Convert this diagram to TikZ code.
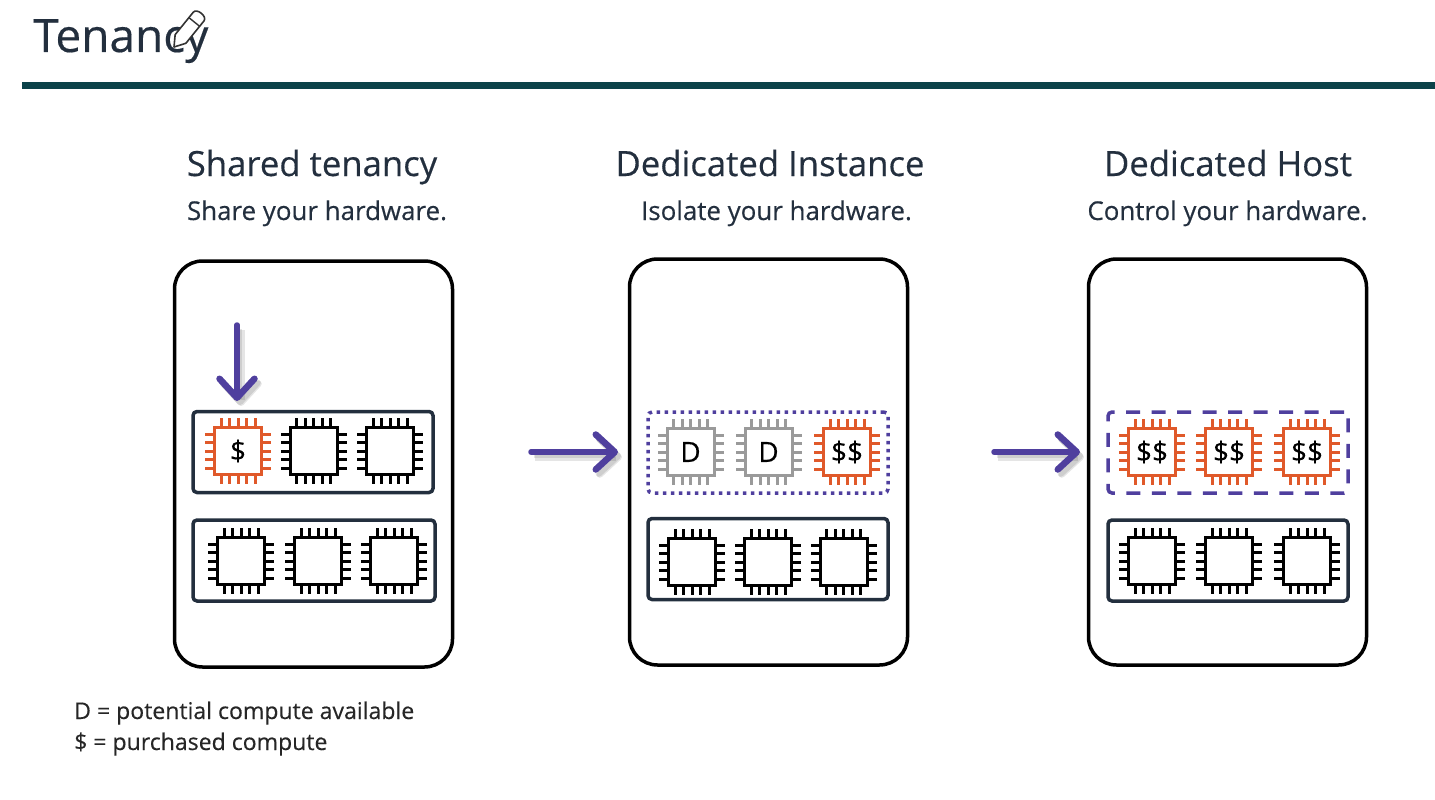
\documentclass[tikz,border=0pt]{standalone}
\usepackage{fontspec}
\setmainfont[FakeBold=0.35]{Open Sans}
\usetikzlibrary{arrows.meta}

\definecolor{inkdark}{HTML}{232F3E}
\definecolor{barteal}{HTML}{0B4249}
\definecolor{arrowpurple}{HTML}{4F3F9E}
\definecolor{chiporange}{HTML}{E0592A}
\definecolor{chipgrey}{HTML}{9A9A9A}

\tikzset{
  host/.style={draw=black, line width=3.5pt, rounded corners=28pt, minimum width=278pt, minimum height=406pt},
  rack/.style={draw=inkdark, line width=3.5pt, rounded corners=4pt, minimum width=240pt, minimum height=81pt},
  rackdotted/.style={rack, draw=arrowpurple, line width=3.5pt, dash pattern=on 3.5pt off 4.5pt},
  rackdashed/.style={rack, draw=arrowpurple, line width=3.5pt, dash pattern=on 14pt off 11.5pt},
  chipbody/.style={draw=#1, fill=white, line width=3pt, minimum size=47pt, inner sep=0pt, font=\fontsize{28}{28}\selectfont},
  heading/.style={font=\fontsize{34.7}{38}\selectfont, text=inkdark, inner sep=0pt, anchor=base},
  subheading/.style={font=\fontsize{25.9}{30}\selectfont, text=inkdark, inner sep=0pt, anchor=base},
  legend/.style={font=\fontsize{23.05}{28}\selectfont, text=black!85, inner sep=0pt, anchor=base west},
  pointer/.style={draw=arrowpurple, line width=5.5pt, line cap=round,
    -{Straight Barb[length=19pt,width=35pt,line width=6.5pt,round]},
    preaction={draw=black, opacity=0.10, line width=7pt, transform canvas={shift={(4pt,-5pt)}}},
    preaction={draw=black, opacity=0.10, line width=4pt, transform canvas={shift={(3pt,-4pt)}}}},
}

% chip: name, x, y, colour, text
\newcommand{\chipnode}[5]{
  \node[chipbody=#4] (#1) at (#2,#3) {#5};
  \foreach \p in {-17,-8.5,0,8.5,17} {
    \draw[#4, line width=3pt] ([shift={(\p,-24)}]#1.center) -- ++(0,-9);
    \draw[#4, line width=3pt] ([shift={(\p,24)}]#1.center) -- ++(0,9);
    \draw[#4, line width=3pt] ([shift={(-24,\p)}]#1.center) -- ++(-9,0);
    \draw[#4, line width=3pt] ([shift={(24,\p)}]#1.center) -- ++(9,0);
  }
}

\begin{document}
\begin{tikzpicture}[x=1pt, y=-1pt]
  \useasboundingbox (0,0) rectangle (1435,800);

  % title and pencil
  \node[font=\fontsize{46}{50}\selectfont, text=inkdark, inner sep=0pt, anchor=base west] (title) at (33,52) {Tenancy};
  \begin{scope}[shift={(174,47)}, rotate=51, scale=1.15]
    \draw[fill=white, draw=black!80, line width=1.6pt, line join=round]
      (0,0) -- (9,-6) -- (34,-6) .. controls (39,-6) and (39,6) .. (34,6) -- (9,6) -- cycle;
    \draw[draw=black!80, line width=1.4pt] (28,-6) -- (28,6);
  \end{scope}
  \fill[barteal] (22,82) rectangle (1435,89);

  % headings
  \node[heading] (sharedhead) at (312,176) {Shared tenancy};
  \node[subheading] (sharedsub) at (317,220) {Share your hardware.};
  \node[heading] (instancehead) at (770,176) {Dedicated Instance};
  \node[subheading] (instancesub) at (776.5,220) {Isolate your hardware.};
  \node[heading] (hosthead) at (1228,176) {Dedicated Host};
  \node[subheading] (hostsub) at (1227.5,220) {Control your hardware.};

  % hosts
  \node[host] (shared) at (313.5,464) {};
  \node[host] (instance) at (768.5,462) {};
  \node[host] (dedicated) at (1227.5,462) {};

  % racks
  \node[rack] (sharedtop) at (313,452) {};
  \node[rack, minimum width=242pt] (sharedlow) at (314,560.5) {};
  \node[rackdotted] (instancetop) at (768,452.5) {};
  \node[rack] (instancelow) at (768,559) {};
  \node[rackdashed] (dedicatedtop) at (1228,452.5) {};
  \node[rack] (dedicatedlow) at (1228,560.5) {};

  % chips
  \chipnode{sa}{238}{451}{chiporange}{\$}
  \chipnode{sb}{313.5}{451}{black}{}
  \chipnode{sc}{390}{451}{black}{}
  \chipnode{sd}{241}{561}{black}{}
  \chipnode{se}{318}{561}{black}{}
  \chipnode{sf}{394}{561}{black}{}

  \chipnode{ia}{690.5}{452}{chipgrey}{D}
  \chipnode{ib}{768.5}{452}{chipgrey}{D}
  \chipnode{ic}{847}{452}{chiporange}{\$\$}
  \chipnode{id}{692}{562}{black}{}
  \chipnode{ie}{768}{562}{black}{}
  \chipnode{if}{843.5}{562}{black}{}

  \chipnode{da}{1152}{452}{chiporange}{\$\$}
  \chipnode{db}{1229}{452}{chiporange}{\$\$}
  \chipnode{dc}{1307}{452}{chiporange}{\$\$}
  \chipnode{dd}{1152}{561}{black}{}
  \chipnode{de}{1229}{561}{black}{}
  \chipnode{df}{1307}{561}{black}{}

  % arrows
  \coordinate (downstart) at (237,325);
  \coordinate (downend) at (237,401);
  \coordinate (firststart) at (531,452);
  \coordinate (firstend) at (618,452);
  \coordinate (secondstart) at (994,452);
  \coordinate (secondend) at (1080,452);
  \draw[pointer] (downstart) -- (downend);
  \draw[pointer] (firststart) -- (firstend);
  \draw[pointer] (secondstart) -- (secondend);

  % legend
  \node[legend] (legendd) at (74,719) {D = potential compute available};
  \node[legend] (legendp) at (74,750) {\$ = purchased compute};
\end{tikzpicture}
\end{document}
